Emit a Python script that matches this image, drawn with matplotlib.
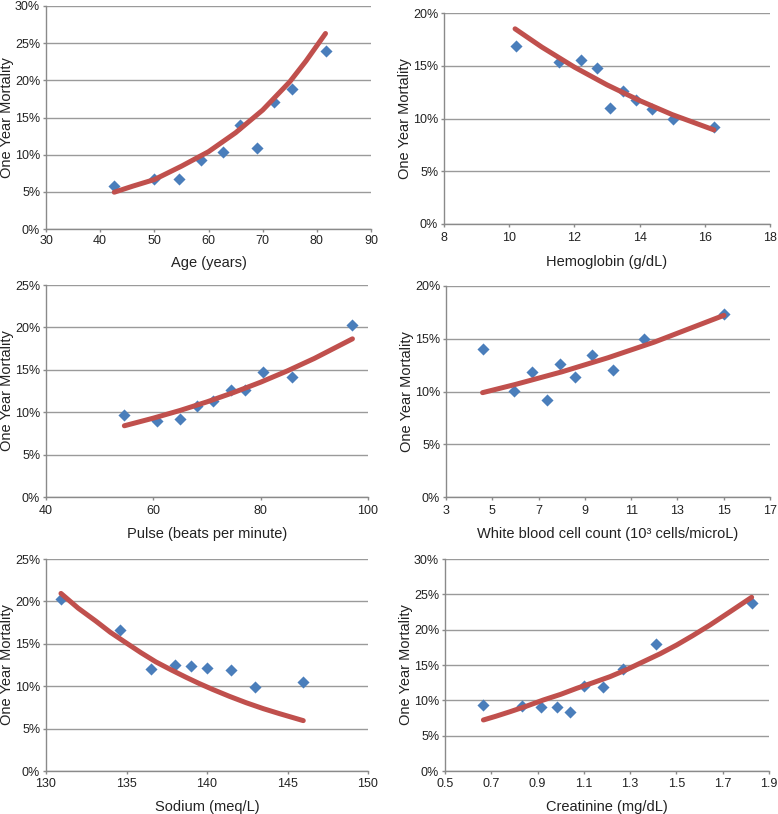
import matplotlib
matplotlib.use("Agg")
import matplotlib.pyplot as plt
from matplotlib.ticker import PercentFormatter, FormatStrFormatter

plt.rcParams["font.family"] = ["Liberation Sans", "DejaVu Sans"]

# Age panel
age_x = [42.6, 50.0, 54.6, 58.6, 62.7, 65.9, 69.0, 72.1, 75.5, 81.6]
age_y = [5.84, 6.78, 6.70, 9.25, 10.37, 13.97, 10.90, 17.10, 18.90, 23.90]
age_fit_x = [42.6, 46, 50, 55, 60, 65, 70, 75, 78, 81.6]
age_fit_y = [4.95, 5.76, 6.65, 8.45, 10.4, 12.95, 16.0, 19.8, 22.6, 26.3]

# Hemoglobin panel
hgb_x = [10.21, 11.52, 12.20, 12.68, 13.08, 13.48, 13.88, 14.38, 15.01, 16.28]
hgb_y = [16.87, 15.32, 15.51, 14.81, 11.04, 12.63, 11.77, 10.92, 10.00, 9.24]
hgb_fit_x = [10.18, 11, 12, 13, 14, 15, 16.28]
hgb_fit_y = [18.5, 16.77, 14.87, 13.19, 11.70, 10.37, 8.92]

# Pulse panel
pulse_x = [54.6, 60.7, 64.9, 68.1, 71.2, 74.4, 77.1, 80.5, 85.9, 97.1]
pulse_y = [9.62, 8.91, 9.22, 10.79, 11.32, 12.62, 12.62, 14.78, 14.10, 20.28]
pulse_fit_x = [54.6, 60, 65, 70, 75, 80, 85, 90, 97.1]
pulse_fit_y = [8.40, 9.30, 10.21, 11.22, 12.33, 13.54, 14.88, 16.34, 18.65]

# White blood cell panel
wbc_x = [4.58, 5.92, 6.71, 7.37, 7.94, 8.57, 9.33, 10.22, 11.55, 15.01]
wbc_y = [14.0, 10.08, 11.82, 9.23, 12.58, 11.41, 13.46, 12.0, 14.94, 17.31]
wbc_fit_x = [4.58, 6, 8, 10, 12, 15.01]
wbc_fit_y = [9.89, 10.67, 11.86, 13.20, 14.68, 17.22]

# Sodium panel
na_x = [130.93, 134.58, 136.54, 138.01, 138.99, 140.0, 141.51, 143.0, 145.98]
na_y = [20.3, 16.66, 12.05, 12.52, 12.44, 12.17, 11.88, 9.96, 10.55]
na_fit_x = [130.93, 132.0, 133.1, 134.0, 134.97, 135.9, 136.83, 137.8, 138.7,
            139.5, 140.35, 141.4, 142.42, 143.5, 144.49, 145.98]
na_fit_y = [20.94, 19.2, 17.67, 16.35, 15.12, 13.95, 12.86, 11.9, 11.05,
            10.33, 9.62, 8.8, 8.06, 7.35, 6.77, 5.94]

# Creatinine panel
cr_x = [0.666, 0.831, 0.915, 0.984, 1.042, 1.101, 1.183, 1.269, 1.412, 1.828]
cr_y = [9.34, 9.24, 9.10, 9.01, 8.35, 11.99, 11.89, 14.39, 18.01, 23.82]
cr_fit_x = [0.666, 0.72, 0.781, 0.85, 0.925, 1.0, 1.069, 1.14, 1.213, 1.285,
            1.357, 1.43, 1.501, 1.57, 1.645, 1.73, 1.825]
cr_fit_y = [7.22, 7.75, 8.39, 9.15, 10.05, 10.85, 11.70, 12.5, 13.35, 14.35,
            15.47, 16.6, 17.83, 19.15, 20.66, 22.5, 24.58]

W, H = 778.0, 814.0


def make_axes(fig, left, right, top, bottom):
    return fig.add_axes([left / W, 1 - bottom / H, (right - left) / W, (bottom - top) / H])


def style_panel(ax, x, y, fx, fy, xlim, xticks, ylim, yticks, xlabel, xfmt=None, xpad=2.8, lpad=6.5):
    ax.scatter(x, y, marker="D", s=38, color="#4a7ebb", zorder=3, linewidths=0)
    ax.plot(fx, fy, color="#c0504d", linewidth=3.6, solid_capstyle="round",
            solid_joinstyle="round", zorder=4)
    ax.set_xlim(*xlim)
    ax.set_ylim(*ylim)
    ax.set_xticks(xticks)
    ax.set_yticks(yticks)
    ax.yaxis.set_major_formatter(PercentFormatter(xmax=100, decimals=0))
    if xfmt:
        ax.xaxis.set_major_formatter(FormatStrFormatter(xfmt))
    ax.grid(axis="y", color="#9a9a9a", linewidth=1.0)
    ax.set_axisbelow(True)
    for s in ("top", "right"):
        ax.spines[s].set_visible(False)
    for s in ("left", "bottom"):
        ax.spines[s].set_color("#8a8a8a")
        ax.spines[s].set_linewidth(1.0)
    ax.tick_params(direction="out", length=2.4, width=1.0, color="#8a8a8a",
                   labelsize=9, labelcolor="#222222", pad=1.8)
    ax.tick_params(axis="x", pad=xpad)
    ax.set_xlabel(xlabel, fontsize=10.5, color="#222222", labelpad=lpad)
    ax.set_ylabel("One Year Mortality", fontsize=10.5, color="#222222")
    ax.yaxis.set_label_coords(-0.099, 0.5)


fig = plt.figure(figsize=(7.78, 8.14), dpi=100)

ax1 = make_axes(fig, 46, 371, 6, 229)
style_panel(ax1, age_x, age_y, age_fit_x, age_fit_y, (30, 90), range(30, 91, 10),
            (0, 30), range(0, 31, 5), "Age (years)", xpad=1.8, lpad=6.5)

ax2 = make_axes(fig, 444, 770, 13, 224)
style_panel(ax2, hgb_x, hgb_y, hgb_fit_x, hgb_fit_y, (8, 18), range(8, 19, 2),
            (0, 20), range(0, 21, 5), "Hemoglobin (g/dL)", xpad=3.5, lpad=8)

ax3 = make_axes(fig, 46, 368, 285, 497)
style_panel(ax3, pulse_x, pulse_y, pulse_fit_x, pulse_fit_y, (40, 100), range(40, 101, 20),
            (0, 25), range(0, 26, 5), "Pulse (beats per minute)", xpad=3.2, lpad=7.5)

ax4 = make_axes(fig, 446, 770, 286, 497)
style_panel(ax4, wbc_x, wbc_y, wbc_fit_x, wbc_fit_y, (3, 17), range(3, 18, 2),
            (0, 20), range(0, 21, 5), "White blood cell count (10³ cells/microL)", xpad=3.2, lpad=7.5)

ax5 = make_axes(fig, 46, 368, 559, 771)
style_panel(ax5, na_x, na_y, na_fit_x, na_fit_y, (130, 150), range(130, 151, 5),
            (0, 25), range(0, 26, 5), "Sodium (meq/L)", xpad=2.8, lpad=7)

ax6 = make_axes(fig, 445, 769, 559, 771)
style_panel(ax6, cr_x, cr_y, cr_fit_x, cr_fit_y, (0.5, 1.9), [0.5, 0.7, 0.9, 1.1, 1.3, 1.5, 1.7, 1.9],
            (0, 30), range(0, 31, 5), "Creatinine (mg/dL)", xfmt="%.1f", xpad=2.8, lpad=7)

fig.savefig("out.png", dpi=100)
